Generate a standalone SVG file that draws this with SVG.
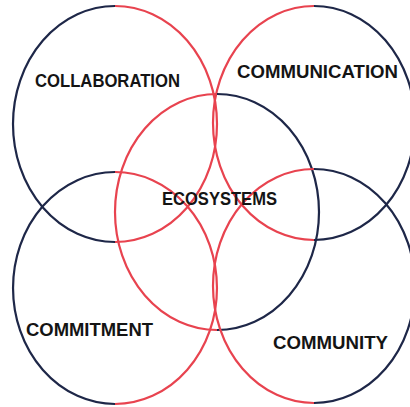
<svg xmlns="http://www.w3.org/2000/svg" width="410" height="407" viewBox="0 0 410 407">
<style>
.n{fill:none;stroke:#1e2748;stroke-width:2.2}
.r{fill:none;stroke:#e8434f;stroke-width:2.2}
.t{font-family:"Liberation Sans","DejaVu Sans",sans-serif;font-weight:bold;font-size:19px;fill:#141414}
</style>
<rect width="410" height="407" fill="#ffffff"/>
<g id="connectors">
<path class="n" d="M115,6 A102,118 0 0 0 115,242"/>
<path class="r" d="M115,6 A102,118 0 0 1 115,242"/>
<path class="r" d="M314,6 A101,117 0 0 0 314,240"/>
<path class="n" d="M314,6 A101,117 0 0 1 314,240"/>
<path class="r" d="M217,94 A102,118 0 0 0 217,330"/>
<path class="n" d="M217,94 A102,118 0 0 1 217,330"/>
<path class="n" d="M115,172 A102,116 0 0 0 115,404"/>
<path class="r" d="M115,172 A102,116 0 0 1 115,404"/>
<path class="r" d="M314,169 A101,117 0 0 0 314,403"/>
<path class="n" d="M314,169 A101,117 0 0 1 314,403"/>
</g>
<g id="collaboration"><text class="t" x="35" y="87" textLength="145" lengthAdjust="spacingAndGlyphs">COLLABORATION</text></g>
<g id="communication"><text class="t" x="237" y="78" textLength="161" lengthAdjust="spacingAndGlyphs">COMMUNICATION</text></g>
<g id="ecosystems"><text class="t" x="162" y="205" textLength="115" lengthAdjust="spacingAndGlyphs">ECOSYSTEMS</text></g>
<g id="commitment"><text class="t" x="26" y="336" textLength="127" lengthAdjust="spacingAndGlyphs">COMMITMENT</text></g>
<g id="community"><text class="t" x="273" y="349" textLength="115" lengthAdjust="spacingAndGlyphs">COMMUNITY</text></g>
</svg>
